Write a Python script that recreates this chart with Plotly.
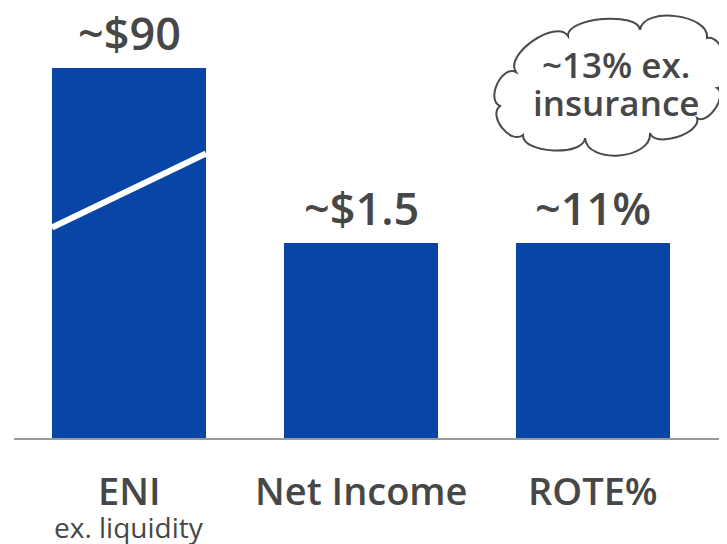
import plotly.graph_objects as go

# ---- data ----
categories = ["ENI", "Net Income", "ROTE%"]
sublabels = ["ex. liquidity", "", ""]
value_labels = ["~$90", "~$1.5", "~11%"]
bar_heights = [100, 52.7, 52.7]   # relative visual heights as drawn
callout_lines = ["~13% ex.", "insurance"]

BLUE = "#0845A7"
TEXT = "#474747"
FONT = "Open Sans"

OFF = 8                      # page body margin
W, H = 727, 544
BASE = 438                   # baseline, page pixels
L = 14 - OFF
T = 0
B = H - (BASE - OFF)
R = 0
PW, PH = W - L - R, H - T - B

def px(x):                   # page pixel x -> paper
    return (x - OFF - L) / PW

def py(y):                   # page pixel y -> paper
    return (BASE - y) / PH

x_idx = list(range(len(categories)))

fig = go.Figure()
fig.add_trace(go.Bar(
    x=x_idx, y=bar_heights, width=0.664,
    marker=dict(color=BLUE, line=dict(width=0)),
    hoverinfo="skip",
))

unit = 370 / bar_heights[0]          # pixels per value unit
ymax = PH / unit

# x range: bar centres at page x 129, 361.5, 593.5
step = 232.0
x0 = -(129 - 14) / step
x1 = x0 + PW / step

annotations = []
for i, (lab, h) in enumerate(zip(value_labels, bar_heights)):
    annotations.append(dict(
        x=i, y=h, xref="x", yref="y", text=lab, showarrow=False,
        xanchor="center", yanchor="middle", yshift=36,
        font=dict(family=FONT, size=45, color=TEXT, weight=600),
    ))
for i, cat in enumerate(categories):
    annotations.append(dict(
        x=i, y=py(490), xref="x", yref="paper", text=cat, showarrow=False,
        xanchor="center", yanchor="middle",
        font=dict(family=FONT, size=38, color=TEXT, weight=600),
    ))
    if sublabels[i]:
        annotations.append(dict(
            x=i, y=py(527), xref="x", yref="paper", text=sublabels[i],
            showarrow=False, xanchor="center", yanchor="middle",
            font=dict(family=FONT, size=28, color=TEXT),
        ))
for j, (line, yy) in enumerate(zip(callout_lines, [64, 103])):
    annotations.append(dict(
        x=px(616), y=py(yy), xref="paper", yref="paper", text=line,
        showarrow=False, xanchor="center", yanchor="middle",
        font=dict(family=FONT, size=35, color=TEXT, weight=600),
    ))

# cloud callout outline (page pixels)
pts = [(500, 106), (516, 72), (568, 36), (640, 30), (707, 38), (717, 88),
       (697, 118), (650, 133), (585, 138), (523, 135)]
hs = [12, 16, 14, 18, 14, 10, 12, 20, 14, 12]
cx, cy = 610, 88

def bump(a, b, h):
    dx, dy = b[0] - a[0], b[1] - a[1]
    ln = (dx * dx + dy * dy) ** 0.5
    nx, ny = -dy / ln, dx / ln
    mx, my = (a[0] + b[0]) / 2, (a[1] + b[1]) / 2
    if (mx + nx - cx) ** 2 + (my + ny - cy) ** 2 < (mx - cx) ** 2 + (my - cy) ** 2:
        nx, ny = -nx, -ny
    k = h * 4 / 3
    c1 = (a[0] + nx * k, a[1] + ny * k)
    c2 = (b[0] + nx * k, b[1] + ny * k)
    return c1, c2

path = f"M {px(pts[0][0])},{py(pts[0][1])}"
for i in range(len(pts)):
    a = pts[i]
    b = pts[(i + 1) % len(pts)]
    c1, c2 = bump(a, b, hs[i])
    path += (f" C {px(c1[0])},{py(c1[1])} {px(c2[0])},{py(c2[1])} "
             f"{px(b[0])},{py(b[1])}")
path += " Z"

shapes = [
    dict(type="path", path=path, xref="paper", yref="paper",
         line=dict(color="#4a4a4a", width=2), fillcolor="rgba(0,0,0,0)",
         layer="above"),
    # axis-break slash across the ENI bar
    dict(type="line", xref="x", yref="y",
         x0=-0.332, x1=0.332,
         y0=(BASE - 227.5) / unit,
         y1=(BASE - 153.5) / unit,
         line=dict(color="white", width=6), layer="above"),
]

fig.update_layout(
    width=W, height=H,
    margin=dict(l=L, r=R, t=T, b=B, pad=0),
    paper_bgcolor="white", plot_bgcolor="white",
    showlegend=False,
    annotations=annotations,
    shapes=shapes,
    xaxis=dict(range=[x0, x1], showticklabels=False, showgrid=False,
               zeroline=False, showline=True, linecolor="#9a9a9a",
               linewidth=2, ticks="", fixedrange=True),
    yaxis=dict(range=[0, ymax], visible=False, showgrid=False,
               zeroline=False, fixedrange=True),
)

fig.write_html("out.html")
